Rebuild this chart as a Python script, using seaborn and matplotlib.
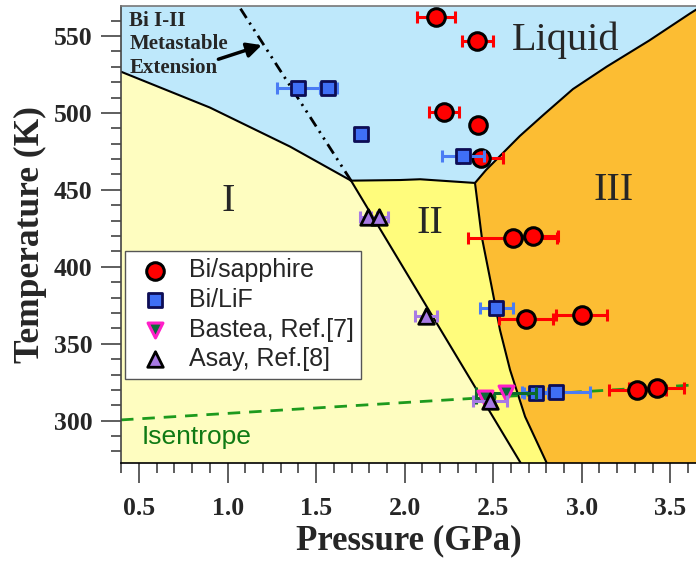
import numpy as np
import pandas as pd
import matplotlib
matplotlib.use('Agg')
import matplotlib.pyplot as plt
import seaborn as sns
from matplotlib.ticker import MultipleLocator

# ---------------- data ----------------
sapphire_P = [2.175, 2.410, 2.224, 2.416, 2.429, 2.610, 2.726, 2.685, 3.000, 3.314, 3.423]
sapphire_T = [562.5, 547.0, 500.4, 492.0, 471.0, 419.0, 420.0, 366.0, 368.7, 320.0, 321.0]
sapphire_err = [0.108, 0.088, 0.085, 0.03, 0.124, 0.25, 0.14, 0.153, 0.143, 0.16, 0.155]

lif_P = [1.400, 1.569, 1.752, 2.328, 2.516, 2.742, 2.855]
lif_T = [516.0, 516.0, 486.3, 472.0, 373.5, 317.8, 318.5]
lif_err = [0.12, 0.05, 0.03, 0.12, 0.093, 0.07, 0.19]

bastea_P = [2.454, 2.572]
bastea_T = [314.6, 317.8]
bastea_err = [0.05, 0.17]

asay_P = [1.795, 1.857, 2.120, 2.482]
asay_T = [432.6, 432.6, 368.3, 313.0]
asay_err = [0.05, 0.05, 0.06, 0.094]

isentrope_P = [0.398, 2.10, 3.645]
isentrope_T = [300.5, 312.5, 323.3]

# phase boundaries
b_I_L_P = [0.398, 0.90, 1.353, 1.697]
b_I_L_T = [526.8, 503.5, 478.1, 456.0]
b_II_L_P = [1.697, 1.974, 2.087, 2.397]
b_II_L_T = [456.0, 456.4, 456.9, 454.5]
b_I_II_P = [1.697, 2.655]
b_I_II_T = [456.0, 272.5]
b_II_III_P = [2.397, 2.435, 2.491, 2.538, 2.595, 2.680, 2.802]
b_II_III_T = [454.5, 419.6, 387.1, 359.0, 333.0, 302.6, 272.5]
b_L_III_P = [2.397, 2.460, 2.538, 2.650, 2.783, 2.950, 3.141, 3.380, 3.612, 3.700]
b_L_III_T = [454.5, 463.0, 472.0, 485.0, 498.7, 515.5, 530.1, 547.0, 564.7, 571.0]
meta_P = [1.697, 1.063]
meta_T = [456.0, 569.5]

# colors
c_liq = '#bee8fb'
c_I = '#fefdc0'
c_II = '#fffc7c'
c_III = '#fcbd33'

sns.set_theme(style='ticks')
plt.rcParams['font.family'] = ['Liberation Serif', 'DejaVu Serif']

fig = plt.figure(figsize=(6.96, 5.65), dpi=100)
ax = fig.add_axes([121/696, 1 - 463/565, (696 - 121)/696, (463 - 6)/565])
ax.set_facecolor(c_liq)

# ---- regions ----
I_poly_P = b_I_L_P + b_I_II_P[1:] + [2.70, 0.30, 0.30]
I_poly_T = b_I_L_T + b_I_II_T[1:] + [250, 250, b_I_L_T[0]]
ax.fill(I_poly_P, I_poly_T, color=c_I, lw=0, zorder=0.5)

II_poly_P = b_II_L_P + b_II_III_P[1:] + [2.85, 2.70] + b_I_II_P[::-1]
II_poly_T = b_II_L_T + b_II_III_T[1:] + [250, 250] + b_I_II_T[::-1]
ax.fill(II_poly_P, II_poly_T, color=c_II, lw=0, zorder=0.5)

III_poly_P = b_L_III_P + [3.9, 3.9, 2.85] + b_II_III_P[::-1]
III_poly_T = b_L_III_T + [600, 250, 250] + b_II_III_T[::-1]
ax.fill(III_poly_P, III_poly_T, color=c_III, lw=0, zorder=0.5)

for bp, bt in [(b_I_L_P, b_I_L_T), (b_II_L_P, b_II_L_T), (b_I_II_P, b_I_II_T),
               (b_II_III_P, b_II_III_T), (b_L_III_P, b_L_III_T)]:
    ax.plot(bp, bt, color='black', lw=1.5, zorder=1, solid_capstyle='round',
            solid_joinstyle='round')

ax.plot(meta_P, meta_T, color='black', lw=2.0, zorder=1,
        linestyle=(0, (4, 2, 0.8, 2, 0.8, 2)))

# isentrope
ax.plot(isentrope_P, isentrope_T, color='#1d9a1d', lw=2.0, zorder=2,
        linestyle=(0, (4.5, 3.2)))

# ---- error bars ----
def ebars(P, T, err, color, z):
    ax.errorbar(P, T, xerr=err, fmt='none', ecolor=color, elinewidth=2.2,
                capsize=4, capthick=2.2, zorder=z)

ebars(sapphire_P, sapphire_T, sapphire_err, '#ff0000', 3)
sns.scatterplot(x=sapphire_P, y=sapphire_T, ax=ax, marker='o', s=160, color='#ff0000',
                edgecolor='black', linewidth=2.2, label='Bi/sapphire', zorder=4)
ebars(lif_P, lif_T, lif_err, '#4a7cf4', 5)
sns.scatterplot(x=lif_P, y=lif_T, ax=ax, marker='s', s=115, color='#3f6ff5',
                edgecolor='#0d0d55', linewidth=2.0, label='Bi/LiF', zorder=6)
ebars(bastea_P, bastea_T, bastea_err, '#0b6b2b', 7)
sns.scatterplot(x=bastea_P, y=bastea_T, ax=ax, marker='v', s=115, color='#0b6b3b',
                edgecolor='#ff1fc8', linewidth=2.2, label='Bastea, Ref.[7]', zorder=8)
ebars(asay_P, asay_T, asay_err, '#a87ae4', 9)
sns.scatterplot(x=asay_P, y=asay_T, ax=ax, marker='^', s=125, color='#a779e3',
                edgecolor='black', linewidth=2.0, label='Asay, Ref.[8]', zorder=10)

# ---- texts ----
ax.text(2.911, 540.9, 'Liquid', fontsize=29, ha='center', va='baseline',
        family='Liberation Serif', zorder=11)
ax.text(3.182, 443.4, 'III', fontsize=29, ha='center', va='baseline',
        family='Liberation Serif', zorder=11)
ax.text(2.141, 422.2, 'II', fontsize=29, ha='center', va='baseline',
        family='Liberation Serif', zorder=11)
ax.text(1.004, 436.3, 'I', fontsize=29, ha='center', va='baseline',
        family='Liberation Serif', zorder=11)
for s, t in zip(['Bi I-II', 'Metastable', 'Extension'], [556.5, 541.4, 526.2]):
    ax.text(0.445, t, s, fontsize=15, fontweight='bold', ha='left', va='baseline',
            family='Liberation Serif', zorder=11)
ax.annotate('', xy=(1.193, 544.1), xytext=(0.948, 534.9),
            arrowprops=dict(arrowstyle='-|>', color='black', lw=2.5, mutation_scale=22,
                            shrinkA=0, shrinkB=0), zorder=11)
ax.text(0.515, 289.4, 'Isentrope', fontsize=19, color='#0f7a14', ha='left', va='center',
        family='Liberation Sans', zorder=11)

# ---- axes ----
ax.set_xlim(0.398, 3.645)
ax.set_ylim(272.5, 569.5)
ax.xaxis.set_major_locator(MultipleLocator(0.5))
ax.xaxis.set_minor_locator(MultipleLocator(0.1))
ax.yaxis.set_major_locator(MultipleLocator(50))
ax.yaxis.set_minor_locator(MultipleLocator(10))
ax.xaxis.set_major_formatter(matplotlib.ticker.FormatStrFormatter('%.1f'))
ax.tick_params(which='major', direction='out', length=14.4, width=1.1, color='#333333',
               pad=6)
ax.tick_params(which='minor', direction='out', length=7.2, width=1.1, color='#333333')
ax.tick_params(axis='x', which='major', pad=10)
for lab in ax.get_xticklabels() + ax.get_yticklabels():
    lab.set_fontfamily('Liberation Serif')
    lab.set_fontweight('bold')
    lab.set_fontsize(18.5)
ax.set_xlabel('Pressure (GPa)', fontsize=25, fontweight='bold', family='Liberation Serif',
              labelpad=3)
ax.set_ylabel('Temperature (K)', fontsize=25.5, fontweight='bold', family='Liberation Serif',
              labelpad=5)
ax.spines['right'].set_visible(False)
ax.spines['top'].set_color('#777777')
ax.spines['left'].set_color('#444444')
ax.spines['bottom'].set_color('black')
for sp in ['top', 'left', 'bottom']:
    ax.spines[sp].set_linewidth(1.2)

leg = ax.legend(loc='upper left', bbox_to_anchor=(4/575, (463 - 251)/457), borderaxespad=0,
                prop={'family': 'Liberation Sans', 'size': 18}, frameon=True, fancybox=False,
                edgecolor='#555555', framealpha=1, borderpad=0.3, labelspacing=0.22,
                handlelength=1.8, handletextpad=0.45)
leg.get_frame().set_linewidth(1.0)
leg.set_zorder(12)

fig.savefig('out.png', dpi=100)
